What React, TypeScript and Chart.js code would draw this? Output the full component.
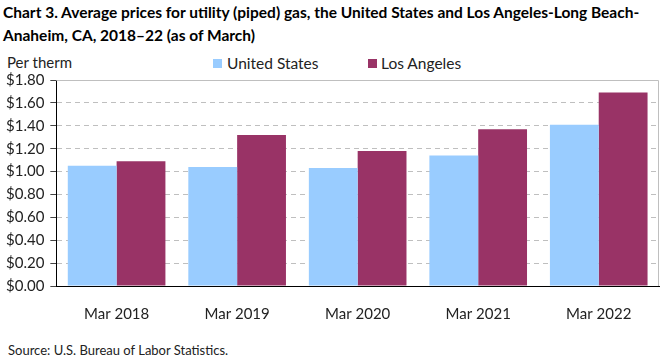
import React, { useEffect, useRef } from "react";
import { Chart, registerables } from "chart.js";

Chart.register(...registerables);

const categories = ["Mar 2018", "Mar 2019", "Mar 2020", "Mar 2021", "Mar 2022"];
const unitedStates = [1.05, 1.04, 1.03, 1.14, 1.41];
const losAngeles = [1.09, 1.32, 1.18, 1.37, 1.69];
const seriesNames = ["United States", "Los Angeles"];
const seriesColors = ["#99ccff", "#993366"];

const FONT = "Lato, 'Open Sans', sans-serif";

const framePlugin = {
  id: "frame",
  afterDatasetsDraw(chart: any) {
    const { ctx, chartArea } = chart;
    ctx.save();
    ctx.strokeStyle = "#bfbfbf";
    ctx.lineWidth = 1;
    ctx.setLineDash([]);
    ctx.beginPath();
    ctx.moveTo(chartArea.left, chartArea.top + 0.5);
    ctx.lineTo(chartArea.right - 0.5, chartArea.top + 0.5);
    ctx.lineTo(chartArea.right - 0.5, chartArea.bottom);
    ctx.stroke();
    ctx.restore();
  },
};

const legendPos = [
  { box: 213, text: 227 },
  { box: 368, text: 381 },
];

export default function App() {
  const ref = useRef<HTMLCanvasElement>(null);
  useEffect(() => {
    if (!ref.current) return;
    const chart = new Chart(ref.current, {
      type: "bar",
      data: {
        labels: categories,
        datasets: [
          { label: seriesNames[0], data: unitedStates, backgroundColor: seriesColors[0] },
          { label: seriesNames[1], data: losAngeles, backgroundColor: seriesColors[1] },
        ],
      },
      plugins: [framePlugin],
      options: {
        animation: false,
        responsive: false,
        maintainAspectRatio: false,
        layout: { padding: { left: 0, right: 2, top: 2, bottom: 0 } },
        datasets: { bar: { categoryPercentage: 0.81, barPercentage: 1.0 } },
        plugins: {
          legend: { display: false },
          tooltip: { enabled: false },
        },
        scales: {
          x: {
            grid: { display: false },
            border: { color: "#000", width: 1 },
            ticks: { font: { family: FONT, size: 15 }, color: "#222", padding: 11 },
          },
          y: {
            min: 0,
            max: 1.8,
            ticks: {
              stepSize: 0.2,
              font: { family: FONT, size: 15 },
              color: "#222",
              padding: 6,
              callback: (v: any) => "$" + Number(v).toFixed(2),
            },
            grid: {
              color: "#bfbfbf",
              tickColor: "#444",
              tickLength: 6,
              drawOnChartArea: true,
              tickBorderDash: [],
            },
            border: {
              color: "#000",
              width: 1,
              dash: [5, 4],
            },
          },
        },
      },
    });
    return () => chart.destroy();
  }, []);

  return (
    <div style={{ position: "absolute", left: 0, top: 0, width: 661, height: 361, background: "#fff", fontFamily: FONT }}>
      <div style={{ position: "absolute", left: 3, top: 1, fontWeight: 700, fontSize: 15.5, lineHeight: "23px", color: "#000", whiteSpace: "nowrap" }}>
        Chart 3. Average prices for utility (piped) gas, the United States and Los Angeles-Long Beach-
        <br />
        Anaheim, CA, 2018–22 (as of March)
      </div>
      <div style={{ position: "absolute", left: 7, top: 53, fontSize: 15, color: "#222" }}>Per therm</div>
      {seriesNames.map((name, i) => (
        <React.Fragment key={name}>
          <div style={{ position: "absolute", left: legendPos[i].box, top: 59, width: 9, height: 9, background: seriesColors[i] }} />
          <div style={{ position: "absolute", left: legendPos[i].text, top: 53, fontSize: 15.5, lineHeight: "20px", color: "#222", whiteSpace: "nowrap" }}>{name}</div>
        </React.Fragment>
      ))}
      <canvas ref={ref} width={661} height={269} style={{ position: "absolute", left: 0, top: 65, width: 661, height: 269 }} />
      <div style={{ position: "absolute", left: 8, top: 342, fontSize: 13, color: "#222" }}>Source: U.S. Bureau of Labor Statistics.</div>
    </div>
  );
}
